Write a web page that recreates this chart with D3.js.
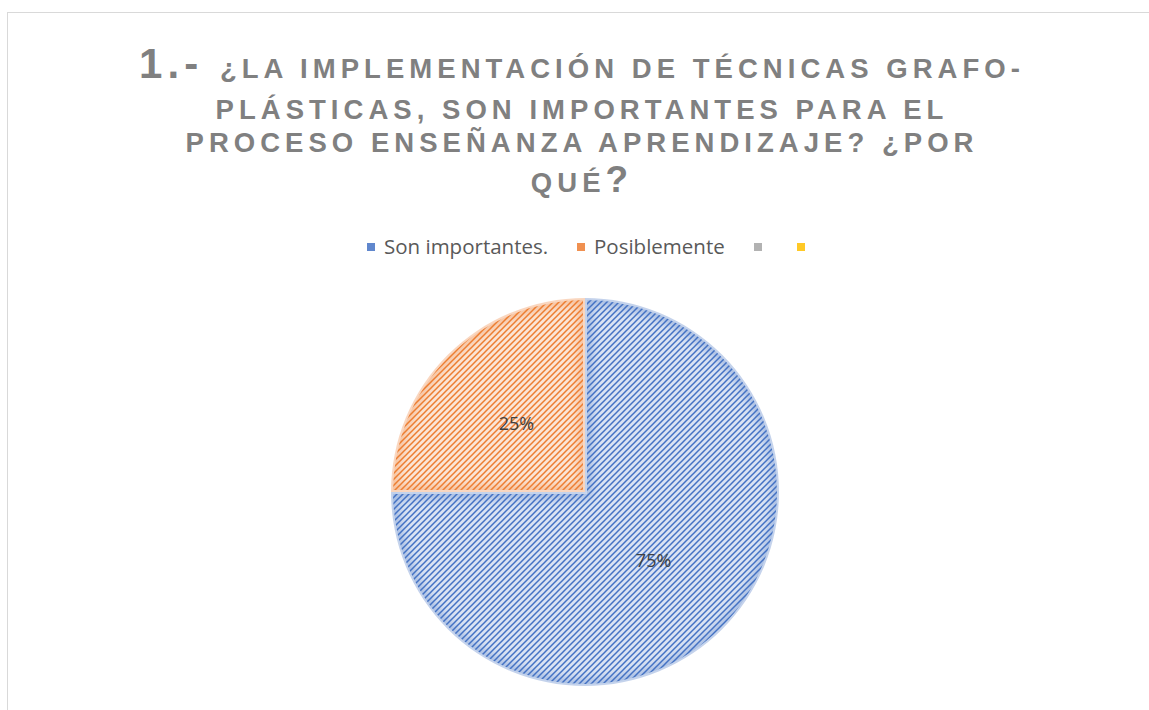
<!DOCTYPE html>
<html><head><meta charset="utf-8">
<script src="https://cdn.jsdelivr.net/npm/d3@7/dist/d3.min.js"></script>
<style>body{margin:0;background:#fff}svg{display:block}</style>
</head><body>
<svg id="c" width="1149" height="710"></svg>
<script>
const categories = ["Son importantes.", "Posiblemente", "", ""];
const values = [75, 25, 0, 0];
const labels = ["75%", "25%", "", ""];
const colors = ["#4472C4", "#ED7D31", "#A5A5A5", "#FFC000"];
const lightColors = ["#DAE3F3", "#FBE5D6", "#EDEDED", "#FFF2CC"];
const titleLines = [
  ["1.- ", "¿LA IMPLEMENTACIÓN DE TÉCNICAS GRAFO-", ""],
  ["", "PLÁSTICAS, SON IMPORTANTES PARA EL", ""],
  ["", "PROCESO ENSEÑANZA APRENDIZAJE? ¿POR", ""],
  ["", "QUÉ", "?"]
];

const svg = d3.select("#c");
const W = 1149, H = 710;
svg.append("rect").attr("width", W).attr("height", H).attr("fill", "#fff");
svg.append("rect").attr("x", 7.5).attr("y", 12.5).attr("width", 1200).attr("height", 800)
  .attr("fill", "none").attr("stroke", "#D9D9D9").attr("stroke-width", 1);

const defs = svg.append("defs");
colors.forEach((c, i) => {
  const p = defs.append("pattern").attr("id", "pat" + i).attr("patternUnits", "userSpaceOnUse")
    .attr("width", 6).attr("height", 6);
  p.append("rect").attr("width", 6).attr("height", 6).attr("fill", lightColors[i]);
  p.append("path").attr("d", "M-1,7 L7,-1 M-1,1 L1,-1 M5,7 L7,5")
    .attr("stroke", c).attr("stroke-width", 1.5);
});
defs.append("filter").attr("id", "blur").attr("x", "-20%").attr("y", "-20%").attr("width", "140%").attr("height", "140%")
  .append("feGaussianBlur").attr("stdDeviation", 4);

// Title
const titleG = svg.append("g").attr("fill", "#808080").attr("font-family", "Liberation Sans, Arial, sans-serif")
  .attr("font-weight", "bold");
const baselines = [78, 119, 152, 192];
const texts = titleLines.map((ln, i) => {
  const t = titleG.append("text").attr("x", 582).attr("y", baselines[i]).attr("text-anchor", "middle");
  if (ln[0]) t.append("tspan").attr("font-size", 42).text(ln[0]);
  t.append("tspan").attr("font-size", 27.5).text(ln[1]);
  if (ln[2]) t.append("tspan").attr("font-size", 37).text(ln[2]);
  return t;
});
{
  const t = texts[2];
  const w0 = t.node().getComputedTextLength();
  const n = titleLines[2][1].length;
  const ls = Math.max(0, (793 - w0) / n);
  texts.forEach(tt => tt.attr("letter-spacing", ls));
}

// Legend
const legend = svg.append("g").attr("font-family", "Open Sans, Liberation Sans, sans-serif")
  .attr("font-size", 20.5).attr("fill", "#595959");
const markerX = [367, 577, 754, 797];
categories.forEach((c, i) => {
  legend.append("rect").attr("x", markerX[i]).attr("y", 243).attr("width", 8).attr("height", 8)
    .attr("fill", colors[i]).attr("opacity", 0.85);
  if (c) legend.append("text").attr("x", markerX[i] + 17).attr("y", 254).text(c);
});

// Pie
const cx = 585, cy = 492, r = 194;
const pie = d3.pie().sort(null).value(d => d)(values);
const arc = d3.arc().innerRadius(0).outerRadius(r);
const g = svg.append("g").attr("transform", `translate(${cx},${cy})`);
pie.forEach((p, i) => {
  if (p.endAngle - p.startAngle <= 0) return;
  const cp = defs.append("clipPath").attr("id", "clip" + i);
  cp.append("path").attr("d", arc(p)).attr("transform", `translate(${cx},${cy})`);
  g.append("path").attr("d", arc(p)).attr("fill", `url(#pat${i})`);
  svg.append("g").attr("clip-path", `url(#clip${i})`)
    .append("path").attr("d", arc(p)).attr("transform", `translate(${cx},${cy})`)
    .attr("fill", "none").attr("stroke", colors[i]).attr("stroke-opacity", 0.35)
    .attr("stroke-width", 14).attr("filter", "url(#blur)");
  g.append("path").attr("d", arc(p)).attr("fill", "none").attr("stroke", "#fff").attr("stroke-width", 4);
});
pie.forEach((p, i) => {
  if (!labels[i]) return;
  const [x, y] = arc.centroid(p);
  g.append("text").attr("x", x).attr("y", y).attr("dy", "0.35em").attr("text-anchor", "middle")
    .attr("font-family", "Open Sans, Liberation Sans, sans-serif").attr("font-size", 18)
    .attr("fill", "#404040").text(labels[i]);
});
</script>
</body></html>
